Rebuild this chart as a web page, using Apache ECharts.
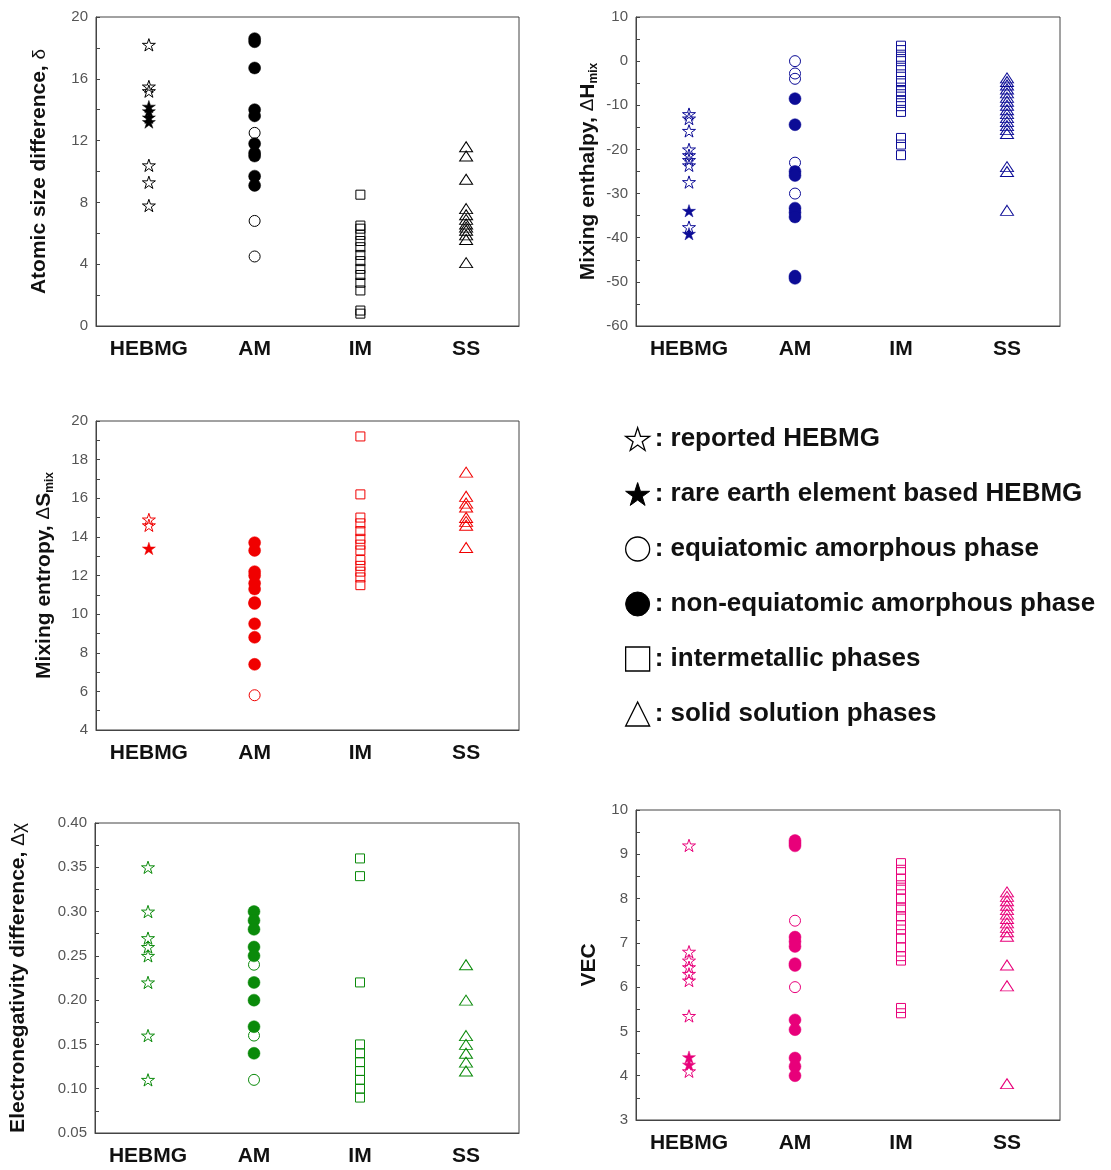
<!DOCTYPE html>
<html>
<head>
<meta charset="utf-8">
<script src="https://cdn.jsdelivr.net/npm/echarts@6/dist/echarts.min.js"></script>
<style>
  html, body { margin: 0; padding: 0; background: #fff; }
  #chart { width: 1111px; height: 1170px; }
</style>
</head>
<body>
<div id="chart"></div>
<script>
// Phase categories on every x axis
const categories = ['HEBMG', 'AM', 'IM', 'SS'];

// Atomic size difference, δ
const deltaReported = [18.2, 15.5, 15.2, 10.4, 9.3, 7.8];
const deltaRareEarth = [14.2, 13.9, 13.5, 13.2];
const deltaEquiAmorph = [12.5, 6.8, 4.5];
const deltaNonEquiAmorph = [18.6, 18.4, 16.7, 14.0, 13.6, 11.8, 11.2, 11.0, 9.7, 9.1];
const deltaIntermetallic = [8.5, 6.5, 6.3, 5.9, 5.5, 5.1, 4.6, 4.2, 3.7, 3.3, 2.8, 2.3, 1.0, 0.8];
const deltaSolidSolution = [11.6, 11.0, 9.5, 7.6, 7.2, 6.9, 6.6, 6.4, 6.2, 5.9, 5.6, 4.1];

// Mixing enthalpy, ΔHmix
const hmixReported = [-12.0, -13.0, -15.8, -20.0, -21.3, -22.4, -23.6, -27.4, -37.6];
const hmixRareEarth = [-33.9, -39.1];
const hmixEquiAmorph = [0, -2.8, -4.0, -23.0, -30.0];
const hmixNonEquiAmorph = [-8.5, -14.4, -25.0, -25.9, -33.3, -34.3, -35.3, -48.7, -49.2];
const hmixIntermetallic = [3.5, 2.5, 1.0, 0, -1.5, -3.0, -4.5, -6.0, -6.8, -7.5, -9.0, -10.2, -11.5, -17.4, -18.9, -21.3];
const hmixSolidSolution = [-3.8, -4.6, -5.4, -6.3, -7.2, -8.2, -9.1, -10.0, -11.0, -11.9, -12.8, -13.7, -14.6, -15.5, -16.4, -23.9, -25.0, -33.8];

// Mixing entropy, ΔSmix
const smixReported = [14.9, 14.6];
const smixRareEarth = [13.4];
const smixEquiAmorph = [5.8];
const smixNonEquiAmorph = [13.7, 13.3, 12.2, 12.0, 11.6, 11.3, 10.6, 10.55, 9.5, 8.8, 7.4];
const smixIntermetallic = [19.2, 16.2, 15.0, 14.7, 14.3, 13.9, 13.6, 13.3, 12.8, 12.5, 12.2, 11.9, 11.5];
const smixSolidSolution = [17.35, 16.1, 15.75, 15.55, 15.0, 14.8, 14.6, 13.45];

// Electronegativity difference, Δχ
const chiReported = [0.35, 0.30, 0.27, 0.26, 0.25, 0.22, 0.16, 0.11];
const chiRareEarth = [];
const chiEquiAmorph = [0.24, 0.16, 0.11];
const chiNonEquiAmorph = [0.30, 0.29, 0.28, 0.26, 0.25, 0.22, 0.20, 0.17, 0.14];
const chiIntermetallic = [0.36, 0.34, 0.22, 0.15, 0.14, 0.13, 0.12, 0.11, 0.10, 0.09];
const chiSolidSolution = [0.24, 0.20, 0.16, 0.15, 0.14, 0.13, 0.12];

// Valence electron concentration, VEC
const vecReported = [9.2, 6.8, 6.6, 6.45, 6.3, 6.15, 5.35, 4.1];
const vecRareEarth = [4.42, 4.25];
const vecEquiAmorph = [7.5, 6.0];
const vecNonEquiAmorph = [9.31, 9.25, 9.19, 7.13, 7.03, 6.92, 6.53, 6.49, 5.26, 5.04, 4.40, 4.21, 4.0];
const vecIntermetallic = [8.8, 8.65, 8.45, 8.3, 8.2, 8.0, 7.8, 7.75, 7.6, 7.4, 7.3, 7.1, 6.9, 6.7, 6.6, 5.53, 5.41];
const vecSolidSolution = [8.15, 8.05, 7.95, 7.85, 7.75, 7.65, 7.55, 7.45, 7.35, 7.25, 7.15, 6.5, 6.03, 3.82];

// Legend entries
const legendNames = [
  'reported HEBMG',
  'rare earth element based HEBMG',
  'equiatomic amorphous phase',
  'non-equiatomic amorphous phase',
  'intermetallic phases',
  'solid solution phases'
];

const FONT = '"Liberation Sans", Arial, sans-serif';
const STAR = 'path://M50,0 L61.23,34.55 L97.55,34.55 L68.17,55.9 L79.39,90.45 L50,69.1 L20.61,90.45 L31.83,55.9 L2.45,34.55 L38.77,34.55 Z';
const FRAME = '#444';

const panels = [
  { grid: { left: 96, top: 17, width: 423, height: 309 }, color: '#000000',
    min: 0, max: 20, interval: 4, nameGap: 46, fmt: v => String(v),
    name: '{t|Atomic size difference, }{g|δ}',
    sets: [deltaReported, deltaRareEarth, deltaEquiAmorph, deltaNonEquiAmorph, deltaIntermetallic, deltaSolidSolution] },
  { grid: { left: 636, top: 17, width: 424, height: 309 }, color: '#0c0c96',
    min: -60, max: 10, interval: 10, nameGap: 36, fmt: v => String(v),
    name: '{t|Mixing enthalpy, }{g|Δ}{t|H}{s|mix}',
    sets: [hmixReported, hmixRareEarth, hmixEquiAmorph, hmixNonEquiAmorph, hmixIntermetallic, hmixSolidSolution] },
  { grid: { left: 96, top: 421, width: 423, height: 309 }, color: '#f00000',
    min: 4, max: 20, interval: 2, nameGap: 40, fmt: v => String(v),
    name: '{t|Mixing entropy, }{g|Δ}{t|S}{s|mix}',
    sets: [smixReported, smixRareEarth, smixEquiAmorph, smixNonEquiAmorph, smixIntermetallic, smixSolidSolution] },
  { grid: { left: 95, top: 823, width: 424, height: 310 }, color: '#0a8a0a',
    min: 0.05, max: 0.40, interval: 0.05, nameGap: 66, fmt: v => v.toFixed(2),
    name: '{t|Electronegativity difference, }{g|Δχ}',
    sets: [chiReported, chiRareEarth, chiEquiAmorph, chiNonEquiAmorph, chiIntermetallic, chiSolidSolution] },
  { grid: { left: 636, top: 810, width: 424, height: 310 }, color: '#e8007a',
    min: 3, max: 10, interval: 1, nameGap: 36, fmt: v => String(v),
    name: '{t|VEC}',
    sets: [vecReported, vecRareEarth, vecEquiAmorph, vecNonEquiAmorph, vecIntermetallic, vecSolidSolution] }
];

// marker per data set: [category index, symbol, size, filled]
const markers = [
  [0, STAR, [13, 13], false],
  [0, STAR, [13, 13], true],
  [1, 'circle', [11, 11], false],
  [1, 'circle', [12, 12], true],
  [2, 'rect', [9, 9], false],
  [3, 'triangle', [13, 10], false]
];

const grids = [], xAxes = [], yAxes = [], series = [];

panels.forEach((p, i) => {
  grids.push(Object.assign({ show: true, borderColor: FRAME, borderWidth: 1, backgroundColor: '#fff' }, p.grid));
  xAxes.push({
    type: 'category', gridIndex: i, data: categories, boundaryGap: true,
    axisLine: { onZero: false, lineStyle: { color: FRAME, width: 1 } },
    axisTick: { show: false },
    axisLabel: { fontFamily: FONT, fontWeight: 'bold', fontSize: 21, color: '#111', margin: 13 },
    splitLine: { show: false }
  });
  yAxes.push({
    type: 'value', gridIndex: i, min: p.min, max: p.max, interval: p.interval,
    axisLine: { show: true, onZero: false, lineStyle: { color: FRAME, width: 1 } },
    axisTick: { show: true, inside: true, length: 4, lineStyle: { color: FRAME } },
    minorTick: { show: true, splitNumber: 2, length: 4, lineStyle: { color: FRAME } },
    splitLine: { show: false },
    axisLabel: { fontFamily: FONT, fontSize: 15, color: '#555', margin: 8, formatter: p.fmt },
    name: p.name,
    nameLocation: 'middle', nameRotate: 90, nameGap: p.nameGap,
    nameTextStyle: {
      fontFamily: FONT, color: '#111',
      rich: {
        t: { fontFamily: FONT, fontSize: 21, fontWeight: 'bold', color: '#111' },
        g: { fontFamily: FONT, fontSize: 19, fontWeight: 'normal', color: '#111' },
        s: { fontFamily: FONT, fontSize: 12, fontWeight: 'bold', color: '#111', verticalAlign: 'bottom', padding: [12, 0, 0, 0] }
      }
    }
  });
  p.sets.forEach((vals, k) => {
    const [cat, symbol, size, filled] = markers[k];
    series.push({
      type: 'scatter', name: legendNames[k], xAxisIndex: i, yAxisIndex: i,
      symbol, symbolSize: size, symbolKeepAspect: true, silent: true,
      itemStyle: filled
        ? { color: p.color, borderColor: p.color, borderWidth: 0.5, opacity: 1 }
        : { color: 'rgba(255,255,255,0)', borderColor: p.color, borderWidth: 1, opacity: 1 },
      data: vals.map(v => [categories[cat], v]),
      z: filled ? 3 : 2
    });
  });
});

const legendIcons = [STAR, STAR, 'circle', 'circle', 'rect', 'triangle'];
const legendFilled = [false, true, false, true, false, false];

const chart = echarts.init(document.getElementById('chart'), null, { renderer: 'canvas' });
chart.setOption({
  animation: false,
  backgroundColor: '#fff',
  grid: grids,
  xAxis: xAxes,
  yAxis: yAxes,
  legend: {
    orient: 'vertical', left: 620, top: 421,
    itemWidth: 24, itemHeight: 24, itemGap: 29,
    selectedMode: false,
    formatter: n => ': ' + n,
    textStyle: { fontFamily: FONT, fontWeight: 'bold', fontSize: 26, color: '#111', lineHeight: 26 },
    data: legendNames.map((n, k) => ({
      name: n, icon: legendIcons[k],
      itemStyle: legendFilled[k]
        ? { color: '#000', borderColor: '#000', borderWidth: 1, opacity: 1 }
        : { color: 'rgba(255,255,255,0)', borderColor: '#000', borderWidth: 1.3, opacity: 1 }
    }))
  },
  series
});
</script>
</body>
</html>
